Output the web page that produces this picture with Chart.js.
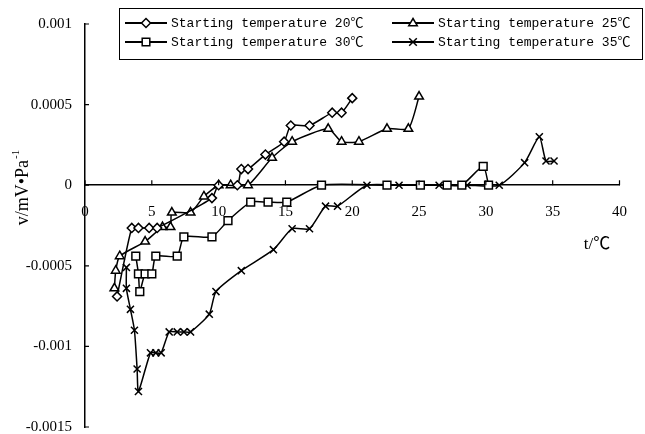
<!DOCTYPE html>
<html>
<head>
<meta charset="utf-8">
<script src="https://cdn.jsdelivr.net/npm/chart.js@4.4.1/dist/chart.umd.min.js"></script>
<style>
  body { margin: 0; background: #fff; }
</style>
</head>
<body>
<div style="width:645px;height:434px"><canvas id="myChart" width="645" height="434"></canvas></div>
<script>
// series: t in degC, v in mV/Pa
const seriesNames = ['Starting temperature 20℃', 'Starting temperature 25℃', 'Starting temperature 30℃', 'Starting temperature 35℃']
const markers = ['rectRot', 'triangle', 'rect', 'crossRot']

const t20 = [2.4, 3.5, 4.0, 4.8, 5.4, 9.5, 10.0, 11.4, 11.7, 12.2, 13.5, 14.9, 15.4, 16.8, 18.5, 19.2, 20.0]
const v20 = [-0.00069, -0.000265, -0.000265, -0.000265, -0.000265, -0.00008, 0, 0, 0.0001, 0.0001, 0.00019, 0.00027, 0.00037, 0.00037, 0.00045, 0.00045, 0.00054]

const t25 = [2.2, 2.3, 2.6, 4.5, 5.8, 6.4, 6.5, 7.9, 8.9, 10.0, 10.9, 12.2, 14.0, 15.5, 18.2, 19.2, 20.5, 22.6, 24.2, 25.0]
const v25 = [-0.00064, -0.00053, -0.00044, -0.00035, -0.00026, -0.00026, -0.00017, -0.00017, -0.00007, 0, 0, 0, 0.00017, 0.00027, 0.00035, 0.00027, 0.00027, 0.00035, 0.00035, 0.00055]

const t30 = [3.8, 4.0, 4.1, 4.5, 5.0, 5.3, 6.9, 7.4, 9.5, 10.7, 12.4, 13.7, 15.1, 17.7, 22.6, 25.1, 27.1, 28.2, 29.8, 30.2]
const v30 = [-0.00044, -0.00055, -0.00066, -0.00055, -0.00055, -0.00044, -0.00044, -0.00032, -0.00032, -0.00022, -0.000105, -0.000105, -0.000105, 0, 0, 0, 0, 0, 0.000117, 0]

const t35 = [3.1, 3.1, 3.4, 3.7, 3.9, 4.0, 4.9, 5.3, 5.7, 6.3, 6.9, 7.4, 7.9, 9.3, 9.8, 11.7, 14.1, 15.5, 16.8, 18.0, 18.9, 21.1, 23.5, 26.5, 28.6, 31.0, 32.9, 34.0, 34.5, 35.1]
const v35 = [-0.00051, -0.00064, -0.00077, -0.0009, -0.00114, -0.00128, -0.00104, -0.00104, -0.00104, -0.00091, -0.00091, -0.00091, -0.00091, -0.0008, -0.00066, -0.00053, -0.0004, -0.00027, -0.00027, -0.00013, -0.00013, 0, 0, 0, 0, 0, 0.00014, 0.0003, 0.00015, 0.00015]

const xTickLabels = ['0', '5', '10', '15', '20', '25', '30', '35', '40']
const yTickLabels = ['-0.0015', '-0.001', '-0.0005', '0', '0.0005', '0.001']

const X_MIN = 0, X_STEP = 5
const Y_MIN = -0.0015, Y_STEP = 0.0005

function pairs(xs, ys){
  return xs.map(function(x, i){ return {x: x, y: ys[i]} })
}

function makeSet(i, xs, ys){
  let r = 4.5
  if(markers[i] == 'crossRot'){ r = 5 }
  if(markers[i] == 'rect'){ r = 5.5 }
  if(markers[i] == 'triangle'){ r = 5 }
  return {
    label: seriesNames[i],
    data: pairs(xs, ys),
    showLine: true,
    borderColor: '#000',
    backgroundColor: '#fff',
    borderWidth: 1.5,
    pointStyle: markers[i],
    pointRadius: r,
    pointBorderWidth: 1.5,
    pointBorderColor: '#000',
    pointBackgroundColor: '#fff',
    tension: 0.2
  }
}

// little marker for the hand drawn legend
function marker(ctx, style, x, y){
  const r = 4.5
  ctx.beginPath()
  if(style == 'rectRot'){
    ctx.moveTo(x, y - r); ctx.lineTo(x + r, y); ctx.lineTo(x, y + r); ctx.lineTo(x - r, y); ctx.closePath()
  } else if(style == 'triangle'){
    ctx.moveTo(x, y - r); ctx.lineTo(x + r * 0.95, y + r * 0.6); ctx.lineTo(x - r * 0.95, y + r * 0.6); ctx.closePath()
  } else if(style == 'rect'){
    const s = 3.8
    ctx.rect(x - s, y - s, 2 * s, 2 * s)
  } else {
    const s = 3.8
    ctx.moveTo(x - s, y - s); ctx.lineTo(x + s, y + s)
    ctx.moveTo(x + s, y - s); ctx.lineTo(x - s, y + s)
    ctx.stroke()
    return
  }
  ctx.fill()
  ctx.stroke()
}

const extras = {
  id: 'extras',
  afterDraw: function(chart){
    const ctx = chart.ctx
    const xs = chart.scales.x, ys = chart.scales.y
    const x0 = xs.getPixelForValue(0), y0 = ys.getPixelForValue(0)
    ctx.save()
    ctx.strokeStyle = '#000'
    ctx.fillStyle = '#fff'
    ctx.lineWidth = 1.2
    // inside tick marks
    ctx.beginPath()
    ys.ticks.forEach(function(t){
      const p = ys.getPixelForValue(t.value)
      ctx.moveTo(x0, p); ctx.lineTo(x0 + 4, p)
    })
    xs.ticks.forEach(function(t){
      const p = xs.getPixelForValue(t.value)
      ctx.moveTo(p, y0); ctx.lineTo(p, y0 - 5)
    })
    ctx.stroke()

    // legend box
    ctx.lineWidth = 1
    ctx.strokeRect(119.5, 8.5, 523, 51)
    const cols = [125, 392]
    const rows = [23, 42]
    ctx.font = "13px 'Liberation Mono', 'Noto Sans CJK SC'"
    ctx.textBaseline = 'middle'
    for(let i = 0; i < 4; i++){
      const cx = cols[i % 2], cy = rows[Math.floor(i / 2)]
      ctx.lineWidth = 1.8
      ctx.beginPath(); ctx.moveTo(cx, cy); ctx.lineTo(cx + 42, cy); ctx.stroke()
      ctx.lineWidth = 1.5
      ctx.fillStyle = '#fff'
      marker(ctx, markers[i], cx + 21, cy)
      ctx.fillStyle = '#000'
      ctx.fillText(seriesNames[i], cx + 46, cy + 1)
    }

    // axis titles
    ctx.fillStyle = '#000'
    ctx.font = "17px 'Liberation Serif', 'Noto Sans CJK SC'"
    ctx.textAlign = 'center'
    ctx.fillText('t/℃', 597, 245)

    ctx.translate(23, 188)
    ctx.rotate(-Math.PI / 2)
    ctx.textAlign = 'left'
    ctx.font = "18px 'Liberation Serif'"
    const main = 'v/mV•Pa'
    const w = ctx.measureText(main).width
    ctx.font = "11px 'Liberation Serif'"
    const ws = ctx.measureText('-1').width
    const start = -(w + ws) / 2
    ctx.font = "18px 'Liberation Serif'"
    ctx.fillText(main, start, 0)
    ctx.font = "11px 'Liberation Serif'"
    ctx.fillText('-1', start + w + 1, -7)
    ctx.restore()
  }
}

const config = {
  type: 'scatter',
  data: {
    datasets: [
      makeSet(0, t20, v20),
      makeSet(1, t25, v25),
      makeSet(2, t30, v30),
      makeSet(3, t35, v35)
    ]
  },
  options: {
    responsive: false,
    animation: false,
    layout: {
      padding: {left: 0, right: 11, top: 24, bottom: 5}
    },
    scales: {
      x: {
        type: 'linear',
        min: 0,
        max: 40,
        position: {y: 0},
        grid: {display: false, drawTicks: false},
        border: {color: '#000', width: 1.5},
        ticks: {
          stepSize: 5,
          padding: 18,
          color: '#000',
          font: {family: 'Liberation Serif', size: 15},
          callback: function(v){ return xTickLabels[Math.round((v - X_MIN) / X_STEP)] }
        }
      },
      y: {
        min: -0.0015,
        max: 0.001,
        grid: {display: false, drawTicks: false},
        border: {color: '#000', width: 1.5},
        ticks: {
          stepSize: 0.0005,
          padding: 13,
          color: '#000',
          font: {family: 'Liberation Serif', size: 15},
          callback: function(v){ return yTickLabels[Math.round((v - Y_MIN) / Y_STEP)] }
        },
        afterFit: function(scale){
          scale.width = 85
          scale.paddingTop = 0
          scale.paddingBottom = 0
        }
      }
    },
    plugins: {
      legend: {display: false},
      tooltip: {enabled: false}
    }
  },
  plugins: [extras]
}

const myChart = new Chart(document.getElementById('myChart'), config)
</script>
</body>
</html>
